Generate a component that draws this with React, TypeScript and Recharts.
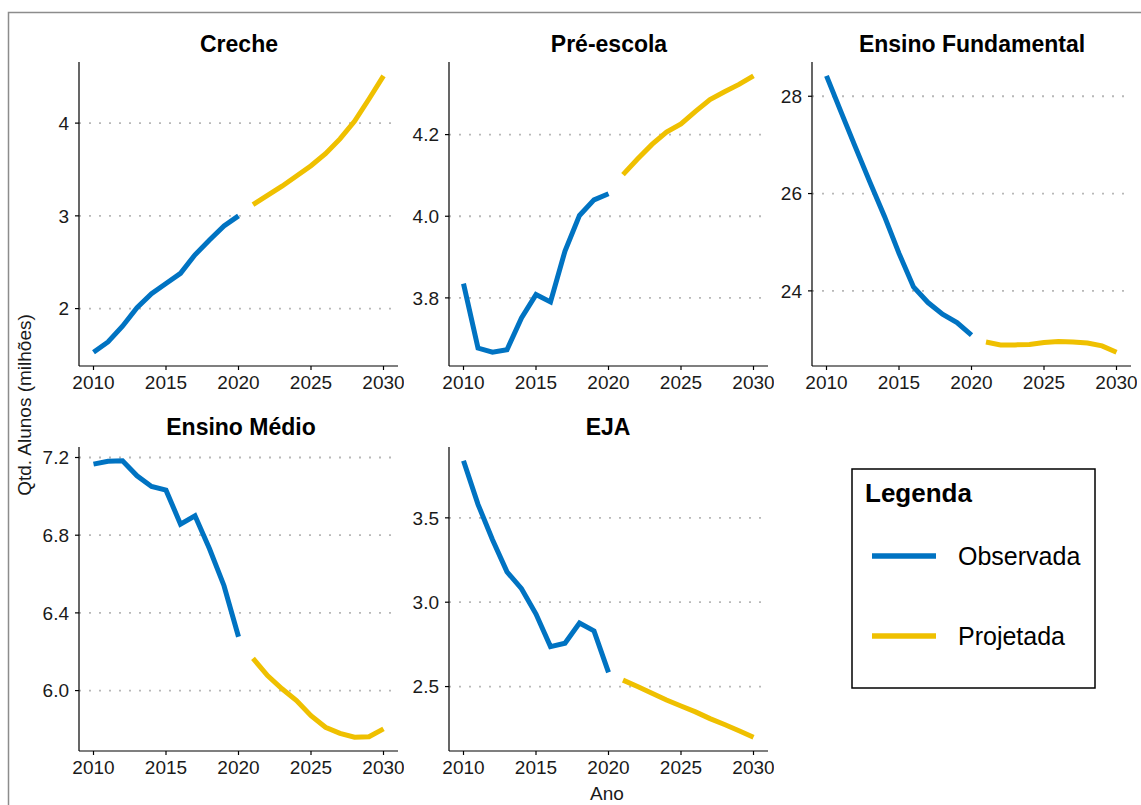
import { LineChart, Line, XAxis, YAxis, ReferenceLine } from "recharts";

const anos = [2010, 2011, 2012, 2013, 2014, 2015, 2016, 2017, 2018, 2019, 2020, 2021, 2022, 2023, 2024, 2025, 2026, 2027, 2028, 2029, 2030];
const ultimoObservado = 2020;
const ticksAno = [2010, 2015, 2020, 2025, 2030];

// valores em milhoes de alunos
const crecheObs = [1.53, 1.64, 1.81, 2.01, 2.16, 2.27, 2.38, 2.58, 2.74, 2.89, 3.0];
const crecheProj = [3.12, 3.22, 3.32, 3.43, 3.54, 3.67, 3.83, 4.02, 4.26, 4.51];

const preObs = [3.835, 3.677, 3.667, 3.673, 3.751, 3.808, 3.79, 3.915, 4.002, 4.04, 4.055];
const preProj = [4.102, 4.14, 4.176, 4.206, 4.226, 4.257, 4.286, 4.305, 4.323, 4.344];

const fundObs = [28.42, 27.68, 26.95, 26.23, 25.53, 24.77, 24.08, 23.76, 23.52, 23.35, 23.09];
const fundProj = [22.95, 22.89, 22.89, 22.9, 22.94, 22.96, 22.95, 22.93, 22.87, 22.74];

const medioObs = [7.166, 7.181, 7.183, 7.106, 7.051, 7.032, 6.857, 6.9, 6.73, 6.54, 6.277];
const medioProj = [6.166, 6.077, 6.009, 5.949, 5.871, 5.811, 5.78, 5.76, 5.762, 5.803];

const ejaObs = [3.838, 3.58, 3.37, 3.18, 3.08, 2.93, 2.737, 2.757, 2.877, 2.83, 2.584];
const ejaProj = [2.538, 2.5, 2.46, 2.42, 2.385, 2.35, 2.31, 2.275, 2.238, 2.2];

const AZUL = "#0073C2";
const AMARELO = "#EFC000";
const FONTE = "'Liberation Sans', Arial, Helvetica, sans-serif";

const PLOT_W = 319;
const PLOT_H = 304;
const Y_AXIS_W = 70;
const X_AXIS_H = 40;
const TOPO = 10;

function montaDados(obs: number[], proj: number[]) {
  return anos.map((ano, i) => ({
    ano,
    obs: ano <= ultimoObservado ? obs[i] : null,
    proj: ano > ultimoObservado ? proj[i - obs.length] : null,
  }));
}

interface PainelProps {
  left: number;
  top: number;
  obs: number[];
  proj: number[];
  ticks: number[];
  casas: number;
}

function Painel({ left, top, obs, proj, ticks, casas }: PainelProps) {
  const dados = montaDados(obs, proj);
  const todos = [...obs, ...proj];
  const min = Math.min(...todos);
  const max = Math.max(...todos);
  const pad = (max - min) * 0.05;

  return (
    <div style={{ position: "absolute", left: left - Y_AXIS_W, top: top - TOPO }}>
      <LineChart
        width={Y_AXIS_W + PLOT_W + 6}
        height={TOPO + PLOT_H + X_AXIS_H}
        data={dados}
        margin={{ top: TOPO, right: 6, bottom: 0, left: 0 }}
      >
        <XAxis
          dataKey="ano"
          type="number"
          domain={[2009, 2031]}
          ticks={ticksAno}
          height={X_AXIS_H}
          tickSize={4}
          tickMargin={6}
          axisLine={{ stroke: "#000", strokeWidth: 1.2 }}
          tickLine={{ stroke: "#000", strokeWidth: 1.2 }}
          tick={{ fill: "#1a1a1a", fontSize: 19, fontFamily: FONTE }}
        />
        <YAxis
          type="number"
          domain={[min - pad, max + pad]}
          ticks={ticks}
          width={Y_AXIS_W}
          tickSize={4}
          tickMargin={6}
          axisLine={{ stroke: "#000", strokeWidth: 1.2 }}
          tickLine={{ stroke: "#000", strokeWidth: 1.2 }}
          tick={{ fill: "#1a1a1a", fontSize: 19, fontFamily: FONTE }}
          tickFormatter={(v: number) => v.toFixed(casas)}
        />
        {ticks.map((t) => (
          <ReferenceLine key={t} y={t} stroke="#b8b8b8" strokeWidth={1.8} strokeDasharray="2 8" />
        ))}
        <Line dataKey="obs" stroke={AZUL} strokeWidth={5} dot={false} type="linear" isAnimationActive={false} />
        <Line dataKey="proj" stroke={AMARELO} strokeWidth={5} dot={false} type="linear" isAnimationActive={false} />
      </LineChart>
    </div>
  );
}

export default function App() {
  return (
    <div
      style={{
        position: "absolute",
        left: 0,
        top: 0,
        width: 1141,
        height: 805,
        background: "#fff",
        overflow: "hidden",
        fontFamily: FONTE,
      }}
    >
      <Painel left={79} top={62} obs={crecheObs} proj={crecheProj} ticks={[2, 3, 4]} casas={0} />
      <Painel left={449} top={62} obs={preObs} proj={preProj} ticks={[3.8, 4.0, 4.2]} casas={1} />
      <Painel left={812} top={62} obs={fundObs} proj={fundProj} ticks={[24, 26, 28]} casas={0} />
      <Painel left={79} top={447} obs={medioObs} proj={medioProj} ticks={[6.0, 6.4, 6.8, 7.2]} casas={1} />
      <Painel left={449} top={447} obs={ejaObs} proj={ejaProj} ticks={[2.5, 3.0, 3.5]} casas={1} />

      <svg
        width={1141}
        height={805}
        style={{ position: "absolute", left: 0, top: 0, pointerEvents: "none" }}
        fontFamily={FONTE}
      >
        <path d="M8.5 805 V12.5 H1141" fill="none" stroke="#8c8c8c" strokeWidth={1.5} />

        <g fontSize={23} fontWeight="bold" fill="#000" textAnchor="middle">
          <text x={239} y={52}>Creche</text>
          <text x={609} y={52}>Pré-escola</text>
          <text x={972} y={52}>Ensino Fundamental</text>
          <text x={241} y={435}>Ensino Médio</text>
          <text x={608} y={435}>EJA</text>
        </g>

        <text x={31} y={405} fontSize={19} fill="#1a1a1a" textAnchor="middle" transform="rotate(-90 31 405)">
          Qtd. Alunos (milhões)
        </text>
        <text x={607} y={800} fontSize={19} fill="#1a1a1a" textAnchor="middle">
          Ano
        </text>

        <rect x={852} y={469} width={243} height={219} fill="#fff" stroke="#000" strokeWidth={1.5} />
        <text x={865} y={502} fontSize={26} fontWeight="bold" fill="#000">Legenda</text>
        <line x1={872} x2={936} y1={556} y2={556} stroke={AZUL} strokeWidth={5.5} />
        <text x={958} y={565} fontSize={25} fill="#000">Observada</text>
        <line x1={872} x2={936} y1={636} y2={636} stroke={AMARELO} strokeWidth={5.5} />
        <text x={958} y={645} fontSize={25} fill="#000">Projetada</text>
      </svg>
    </div>
  );
}
